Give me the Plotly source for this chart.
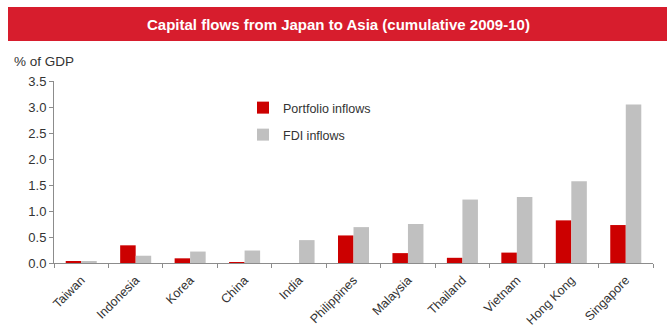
import plotly.graph_objects as go

# Cumulative 2009-10 capital flows from Japan, % of recipient GDP
countries = ["Taiwan", "Indonesia", "Korea", "China", "India", "Philippines",
             "Malaysia", "Thailand", "Vietnam", "Hong Kong", "Singapore"]
portfolio_inflows = [0.02, 0.34, 0.09, 0.01, 0.0, 0.53, 0.19, 0.10, 0.20, 0.82, 0.73]
fdi_inflows = [0.03, 0.14, 0.22, 0.24, 0.44, 0.69, 0.75, 1.22, 1.27, 1.57, 3.05]
y_ticks = [0.0, 0.5, 1.0, 1.5, 2.0, 2.5, 3.0, 3.5]

W, H = 672, 333
M = dict(l=54, r=19, t=81, b=70)
PW = W - M["l"] - M["r"]
PH = H - M["t"] - M["b"]


def px_x(x):
    return (x - M["l"]) / PW


def px_y(y):
    return (H - M["b"] - y) / PH


RED = "#cc0000"
GREY = "#c0c0c0"
TEXT = "#333333"
FONT = "Liberation Sans, Arial, sans-serif"

fig = go.Figure()
fig.add_trace(go.Bar(x=countries, y=portfolio_inflows, name="Portfolio inflows",
                     marker=dict(color=RED, line=dict(width=0)),
                     legend="legend", showlegend=True))
fig.add_trace(go.Bar(x=countries, y=fdi_inflows, name="FDI inflows",
                     marker=dict(color=GREY, line=dict(width=0)),
                     legend="legend2", showlegend=True))

# Title banner
fig.add_shape(type="rect", xref="paper", yref="paper",
              x0=px_x(8), x1=px_x(667), y0=px_y(41), y1=px_y(7),
              fillcolor="#d71d2d", line=dict(width=0), layer="above")
fig.add_annotation(xref="paper", yref="paper", x=px_x(338), y=px_y(24.5),
                   text="<b>Capital flows from Japan to Asia (cumulative 2009-10)</b>",
                   showarrow=False, xanchor="center", yanchor="middle",
                   font=dict(family=FONT, size=15, color="white"))
fig.add_annotation(xref="paper", yref="paper", x=px_x(12), y=px_y(62),
                   text="% of GDP", showarrow=False, xanchor="left", yanchor="middle",
                   font=dict(family=FONT, size=13.5, color=TEXT))

legend_style = dict(font=dict(family=FONT, size=12.5, color=TEXT),
                    bgcolor="rgba(0,0,0,0)", borderwidth=0,
                    xanchor="left", yanchor="middle", itemwidth=30)

fig.update_layout(
    width=W, height=H, margin=M,
    paper_bgcolor="white", plot_bgcolor="white",
    barmode="group", bargap=0.43, bargroupgap=0.0,
    legend=dict(x=px_x(243), y=px_y(108), **legend_style),
    legend2=dict(x=px_x(243), y=px_y(135), **legend_style),
    xaxis=dict(showgrid=False, showline=True, linecolor="#8c8c8c", linewidth=1,
               ticks="outside", tickson="boundaries", ticklen=4, tickcolor="#8c8c8c",
               tickangle=-45, ticklabelstandoff=4, automargin=False,
               tickfont=dict(family=FONT, size=12.5, color=TEXT)),
    yaxis=dict(range=[0, 3.5], tickvals=y_ticks, tickformat=".1f", showgrid=False,
               zeroline=False, showline=True, linecolor="#8c8c8c", linewidth=1,
               ticks="outside", ticklen=4, tickcolor="#8c8c8c", automargin=False,
               tickfont=dict(family=FONT, size=13, color=TEXT)),
)

fig.write_html("out.html")
